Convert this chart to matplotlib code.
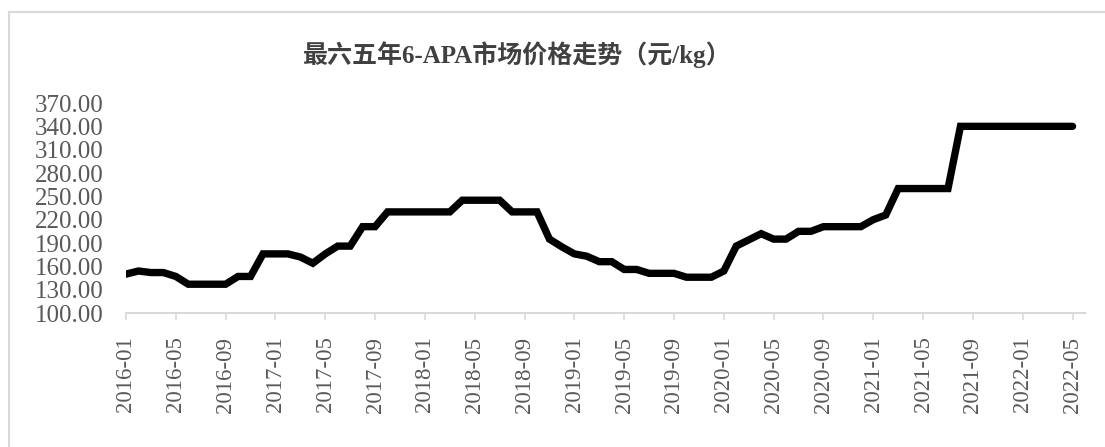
import matplotlib
matplotlib.use("Agg")
import matplotlib.pyplot as plt
from matplotlib.lines import Line2D

# monthly price data, 2016-01 .. 2022-05 (元/kg)
months = [f"{y}-{m:02d}" for y in range(2016, 2023) for m in range(1, 13)][:77]
prices = [
    150, 154, 152, 152, 147, 137, 137, 137, 137, 147, 147, 176,   # 2016
    176, 176, 172, 164, 176, 186, 186, 211, 211, 230, 230, 230,   # 2017
    230, 230, 230, 245, 245, 245, 245, 230, 230, 230, 195, 185,   # 2018
    176, 173, 166, 166, 156, 156, 151, 151, 151, 146, 146, 146,   # 2019
    154, 186, 194, 202, 195, 195, 205, 205, 211, 211, 211, 211,   # 2020
    220, 226, 260, 260, 260, 260, 260, 340, 340, 340, 340, 340,   # 2021
    340, 340, 340, 340, 340,                                      # 2022
]
y_ticks = [100, 130, 160, 190, 220, 250, 280, 310, 340, 370]
title = "最六五年6-APA市场价格走势（元/kg）"

W, H = 1105, 447
fig = plt.figure(figsize=(W / 100, H / 100), dpi=100)
ax = fig.add_axes([126 / W, 1 - 313 / H, (1085 - 126) / W, (313 - 103) / H])

x = list(range(len(prices)))
ax.plot(x, prices, color="black", lw=5.3, solid_joinstyle="miter", solid_capstyle="round")

ax.set_xlim(0, 77)
ax.set_ylim(100, 370)

grey = "#595959"
ax.set_yticks(y_ticks)
ax.set_yticklabels([f"{v:.2f}" for v in y_ticks], family="Liberation Serif",
                   fontsize=18, color=grey)
ax.set_xticks(x[::4])
ax.set_xticklabels(months[::4], rotation=90, family="Liberation Serif",
                   fontsize=16.5, color=grey)
ax.tick_params(axis="y", length=0, pad=16)
ax.tick_params(axis="x", length=5, width=1.2, color="#d9d9d9", pad=12)

for s in ("left", "right", "top"):
    ax.spines[s].set_visible(False)
ax.spines["bottom"].set_color("#d9d9d9")
ax.spines["bottom"].set_linewidth(1.5)

fig.text(517 / W, 1 - 55 / H, title, family=["Liberation Serif", "Noto Sans CJK SC"],
         fontsize=18, fontweight="bold", color="#404040", ha="center", va="center")

# chart frame (left and top edges visible)
fig.add_artist(Line2D([9 / W, 9 / W], [0, 1 - 12 / H], transform=fig.transFigure,
                      color="#d9d9d9", lw=1.5))
fig.add_artist(Line2D([9 / W, 1], [1 - 12 / H, 1 - 12 / H], transform=fig.transFigure,
                      color="#d9d9d9", lw=1.5))

fig.savefig("out.png", dpi=100)
